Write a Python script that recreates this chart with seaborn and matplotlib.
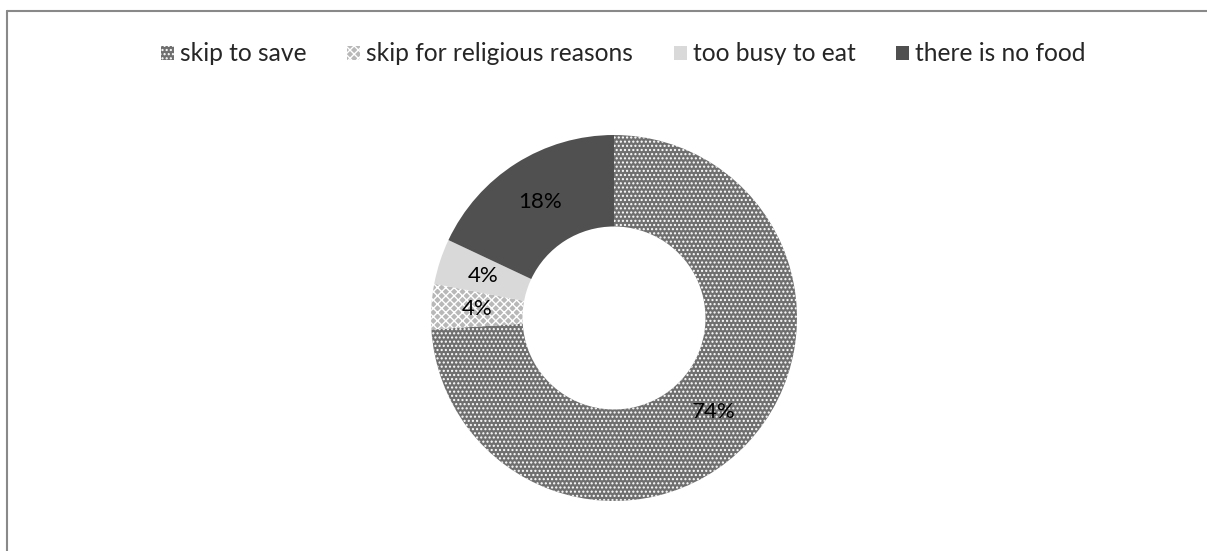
import matplotlib
matplotlib.use("Agg")
import matplotlib.pyplot as plt
from matplotlib.lines import Line2D
import seaborn as sns

# Reasons for skipping meals (share of respondents, %)
categories = ["skip to save", "skip for religious reasons", "too busy to eat", "there is no food"]
values = [74, 4, 4, 18]

face_colors = ["#6f6f6f", "#b8b8b8", "#d9d9d9", "#505050"]
hatches = ["....", "xxxx", "", ""]

sns.set_theme(style="white")
plt.rcParams["font.family"] = ["Lato", "DejaVu Sans"]
plt.rcParams["patch.force_edgecolor"] = False
plt.rcParams["hatch.color"] = "white"
plt.rcParams["hatch.linewidth"] = 1.0

fig = plt.figure(figsize=(12.07, 5.51), dpi=100)
ax = fig.add_axes([0.3571, 0.0908, 0.3032, 0.6642])

wedges, texts, autotexts = ax.pie(
    values,
    labels=None,
    colors=face_colors,
    hatch=hatches,
    startangle=90,
    counterclock=False,
    radius=1.0,
    autopct=lambda p: f"{p:.0f}%",
    pctdistance=0.75,
    wedgeprops=dict(width=0.5, linewidth=0),
    textprops=dict(fontsize=16, color="#000000"),
)
ax.set_xlim(-1, 1)
ax.set_ylim(-1, 1)
ax.set_aspect("equal")
ax.axis("off")

fig.legend(
    wedges, categories,
    loc="center", bbox_to_anchor=(0.5165, 0.902),
    ncol=4, frameon=False, fontsize=17.7,
    handlelength=0.53, handleheight=0.53, handletextpad=0.25,
    columnspacing=1.65,
)

# chart-area border (top and left edges)
border = "#898989"
fig.add_artist(Line2D([7 / 1207, 1.0], [1 - 11 / 551, 1 - 11 / 551],
                      transform=fig.transFigure, color=border, linewidth=1.5))
fig.add_artist(Line2D([7 / 1207, 7 / 1207], [0.0, 1 - 11 / 551],
                      transform=fig.transFigure, color=border, linewidth=1.5))

fig.savefig("out.png", dpi=100, facecolor="white")
